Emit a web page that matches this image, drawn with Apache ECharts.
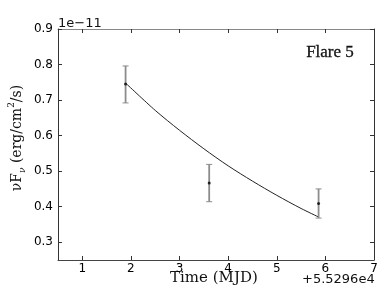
<!DOCTYPE html>
<html><head><meta charset="utf-8">
<script src="https://cdn.jsdelivr.net/npm/echarts@6/dist/echarts.min.js"></script>
<style>html,body{margin:0;padding:0;background:#fff}#c{width:390px;height:289px}</style>
</head><body><div id="c"></div>
<script>
// Observations (time offset from 55296 MJD, flux in 1e-11 erg/cm2/s)
var obsTime = [1.89, 3.61, 5.86];
var obsFlux = [0.745, 0.467, 0.409];
var errLow = [0.692, 0.414, 0.368];
var errHigh = [0.796, 0.519, 0.450];
// Fitted decay curve
var fitTime = [1.89, 2.5, 3.0, 3.5, 4.0, 4.5, 5.0, 5.5, 5.86];
var fitFlux = [0.748, 0.671, 0.615, 0.563, 0.515, 0.472, 0.432, 0.395, 0.371];
var xTicks = [1, 2, 3, 4, 5, 6, 7];
var yTicks = [0.3, 0.4, 0.5, 0.6, 0.7, 0.8, 0.9];

var chart = echarts.init(document.getElementById('c'), null, {renderer: 'canvas'});
var tickFont = {fontFamily: 'DejaVu Sans', fontSize: 12, color: '#000'};
function xa(pos, labels, col) {
  return {type: 'value', position: pos, min: 0.5, max: 7,
    axisLine: {show: true, lineStyle: {color: col, width: 1}}, splitLine: {show: false},
    axisTick: {show: true, inside: true, length: 4, customValues: xTicks, lineStyle: {color: '#333'}},
    axisLabel: Object.assign({show: labels, margin: 3, customValues: xTicks}, tickFont)};
}
function ya(pos, labels) {
  return {type: 'value', position: pos, min: 0.25, max: 0.9,
    axisLine: {show: true, lineStyle: {color: '#333', width: 1}}, splitLine: {show: false},
    axisTick: {show: true, inside: true, length: 4, customValues: yTicks, lineStyle: {color: '#333'}},
    axisLabel: Object.assign({show: labels, margin: 5, customValues: yTicks, formatter: function(v){return v.toFixed(1);}}, tickFont)};
}
var errData = obsTime.map(function(t, i){ return [t, errLow[i], errHigh[i]]; });
var option = {
  animation: false,
  grid: {left: 58, right: 16, top: 29, bottom: 29},
  xAxis: [xa('bottom', true, '#444'), xa('top', false, '#888')],
  yAxis: [ya('left', true), ya('right', false)],
  series: [
    {type: 'line', data: fitTime.map(function(t,i){return [t, fitFlux[i]];}), smooth: 0.3, showSymbol: false,
     lineStyle: {color: '#222', width: 1}, z: 2},
    {type: 'custom', data: errData, z: 3,
     renderItem: function(params, api) {
       var lo = api.coord([api.value(0), api.value(1)]);
       var hi = api.coord([api.value(0), api.value(2)]);
       var st = {stroke: '#8c8c8c', lineWidth: 1.8};
       return {type: 'group', children: [
         {type: 'line', shape: {x1: lo[0], y1: lo[1], x2: hi[0], y2: hi[1]}, style: st},
         {type: 'line', shape: {x1: lo[0]-3, y1: lo[1], x2: lo[0]+3, y2: lo[1]}, style: {stroke: '#8c8c8c', lineWidth: 1}},
         {type: 'line', shape: {x1: hi[0]-3, y1: hi[1], x2: hi[0]+3, y2: hi[1]}, style: {stroke: '#8c8c8c', lineWidth: 1}}
       ]};
     }},
    {type: 'scatter', data: obsTime.map(function(t,i){return [t, obsFlux[i]];}), symbol: 'circle', symbolSize: 3,
     itemStyle: {color: '#000'}, z: 4}
  ],
  graphic: [
    {type: 'text', left: 58, top: 17, style: {text: '1e\u221211', font: '13px "DejaVu Sans"', fill: '#111'}},
    {type: 'text', left: 306, top: 44, style: {text: 'Flare 5', font: '17px "Liberation Serif"', fill: '#111', stroke: '#111', lineWidth: 0.3}},
    {type: 'text', left: 170, top: 271, style: {text: 'Time (MJD)', font: '15px "DejaVu Serif"', fill: '#111'}},
    {type: 'text', left: 302, top: 273, style: {text: '+5.5296e4', font: '13px "DejaVu Sans"', fill: '#111'}},
    {type: 'text', x: 17, y: 138, rotation: Math.PI/2,
     style: {text: '{a|\u03BDF}{sub|\u03BD}{a| (erg/cm}{sup|2}{a|/s)}', align: 'center', verticalAlign: 'middle',
       rich: {
         a: {font: '14px "DejaVu Serif"', fill: '#111', lineHeight: 20, verticalAlign: 'middle'},
         sub: {font: 'italic 9px "DejaVu Serif"', fill: '#111', lineHeight: 20, verticalAlign: 'bottom', padding: [6,0,0,0]},
         sup: {font: '9px "DejaVu Serif"', fill: '#111', lineHeight: 20, verticalAlign: 'top', padding: [0,0,6,0]}
       }}}
  ]
};
chart.setOption(option);
</script></body></html>
